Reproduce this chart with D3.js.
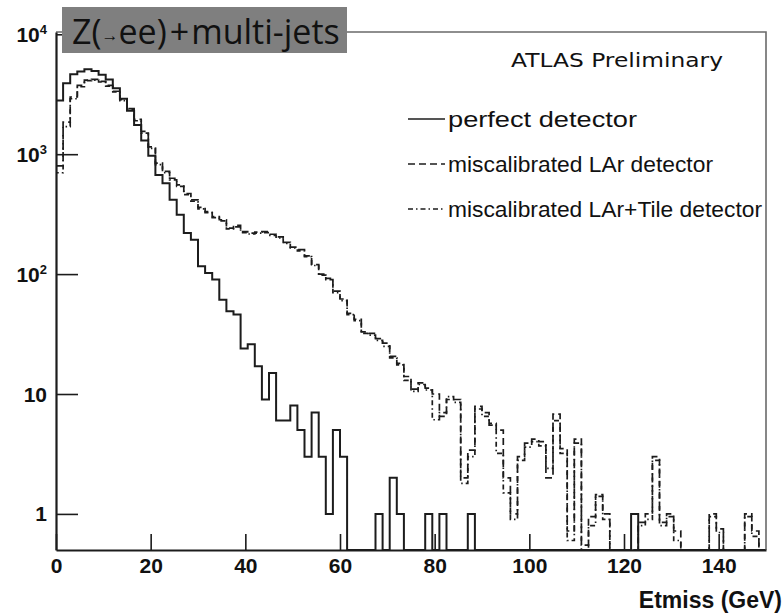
<!DOCTYPE html>
<html>
<head>
<meta charset="utf-8">
<script src="https://cdn.jsdelivr.net/npm/d3@7"></script>
<style>
  html, body { margin: 0; padding: 0; background: #fff; }
  svg { display: block; }
</style>
</head>
<body>
<svg id="chart" width="784" height="614"></svg>
<script>
// Etmiss distributions, 1.5 GeV bins from 0 to 150 GeV (100 bins)
const binWidth = 1.5;
const xRange = [0, 150];

const perfect = [
  2800, 3900, 4650, 4900, 5100, 4950, 4600, 4200, 3550, 2900,
  2300, 1750, 1300, 970, 672, 573, 416, 312, 220, 193,
  116, 102, 90, 61, 49, 46, 24, 26, 17, 9,
  15, 6, 6, 8, 5, 3, 7, 3, 1, 5,
  3, 0, 0, 0, 0, 1, 0, 2, 1, 0,
  0, 0, 1, 0, 1, 0, 0, 0, 1, 0,
  0, 0, 0, 0, 0, 0, 0, 0, 0, 0,
  0, 0, 0, 0, 0, 0, 0, 0, 0, 0,
  0, 1, 0, 0, 0, 0, 0, 0, 0, 0,
  0, 0, 0, 0, 0, 0, 0, 0, 0, 0
];

const missLAr = [
  800, 1850, 3000, 3750, 4150, 4200, 4050, 3750, 3350, 2850,
  2400, 1950, 1550, 1150, 842, 720, 630, 555, 470, 416,
  360, 332, 302, 284, 242, 255, 226, 220, 224, 226,
  215, 204, 184, 168, 160, 142, 120, 100, 92, 72,
  62, 47, 42, 33, 32, 29, 26.6, 20.6, 18, 14,
  11, 12.4, 11.2, 10, 6.5, 9, 9, 2.0, 3.4, 7.9,
  7.0, 5.7, 5.0, 2.0, 1.0, 3.0, 3.9, 4.2, 4.0, 2.0,
  6.8, 3.5, 0.72, 4.2, 0, 0.95, 1.45, 1.0, 0, 0,
  0, 0, 0.85, 1.0, 3.0, 0.85, 1.0, 0.72, 0, 0,
  0, 0, 1.0, 0.75, 0, 0, 0, 1.0, 0.72, 0
];

const missLArTile = [
  700, 1700, 2900, 3650, 4100, 4150, 4000, 3700, 3300, 2800,
  2350, 1900, 1500, 1120, 820, 700, 610, 540, 460, 405,
  350, 325, 296, 278, 238, 248, 222, 216, 220, 222,
  210, 200, 180, 165, 156, 140, 118, 98, 90, 70,
  60, 46, 41, 32, 31, 28, 25, 20, 17.5, 13,
  10.5, 12, 10.8, 6.1, 7, 9.5, 8.5, 1.8, 3.0, 7.5,
  6.5, 5.5, 3.2, 1.5, 0.9, 2.8, 3.6, 4.0, 3.7, 2.4,
  6.0, 3.2, 0.6, 3.9, 0.55, 0.8, 1.4, 0.9, 0, 0,
  0, 0, 0.8, 0.9, 2.8, 0.8, 0.95, 0.6, 0, 0,
  0, 0, 0.95, 0.7, 0, 0, 0, 0.95, 0.65, 0
];

const seriesNames = ["perfect detector", "miscalibrated LAr detector", "miscalibrated LAr+Tile detector"];
const xMajorTicks = [0, 20, 40, 60, 80, 100, 120, 140];
const yMajorTicks = [1, 10, 100, 1000, 10000];
const yTickLabels = [["1", ""], ["10", ""], ["10", "2"], ["10", "3"], ["10", "4"]];
const yDomain = [0.5, 10450];

const svg = d3.select("#chart");
const plot = { left: 56, right: 766, top: 32, bottom: 550 };

const x = d3.scaleLinear().domain(xRange).range([plot.left, plot.right]);
const y = d3.scaleLog().domain(yDomain).range([plot.bottom, plot.top]);

const ink = "#1c1c1c";
const dashStyles = [null, "7,4", "5,3,1.5,3"];
const strokeWidths = [2, 1.7, 1.7];

svg.append("rect").attr("width", 784).attr("height", 614).attr("fill", "#fff");

svg.append("defs").append("clipPath").attr("id", "plotClip")
  .append("rect")
  .attr("x", plot.left).attr("y", plot.top)
  .attr("width", plot.right - plot.left).attr("height", plot.bottom - plot.top);

// step outline of a histogram, empty bins sit on the axis
function stepPath(vals) {
  const yv = v => (v >= yDomain[0] ? y(v) : plot.bottom);
  let d = `M${x(0)},${plot.bottom}`;
  vals.forEach((v, i) => {
    d += `V${yv(v)}H${x((i + 1) * binWidth)}`;
  });
  d += `V${plot.bottom}`;
  return d;
}

const hists = svg.append("g").attr("clip-path", "url(#plotClip)");
[[missLArTile, 2], [missLAr, 1], [perfect, 0]].forEach(([vals, k]) => {
  hists.append("path")
    .attr("d", stepPath(vals))
    .attr("fill", "none")
    .attr("stroke", ink)
    .attr("stroke-width", strokeWidths[k])
    .attr("stroke-dasharray", dashStyles[k])
    .attr("stroke-linejoin", "miter");
});

// frame: top and right in grey
svg.append("path")
  .attr("d", `M${plot.left},${plot.top}H${plot.right}V${plot.bottom}`)
  .attr("fill", "none").attr("stroke", "#6a6a6a").attr("stroke-width", 1.6);

// x axis
const xMinor = d3.range(0, 151, 5).filter(v => v % 20 !== 0);
const xAxisG = svg.append("g").attr("transform", `translate(0,${plot.bottom})`);
xAxisG.call(d3.axisBottom(x).tickValues(xMinor).tickSizeInner(-8).tickSizeOuter(0).tickFormat(""));
xAxisG.call(d3.axisBottom(x).tickValues(xMajorTicks).tickSizeInner(-16).tickSizeOuter(0).tickPadding(8)
  .tickFormat(d3.format("d")));
xAxisG.selectAll("path.domain").attr("stroke", ink).attr("stroke-width", 2.2);
xAxisG.selectAll(".tick line").attr("stroke", ink).attr("stroke-width", 1.6);
xAxisG.selectAll(".tick text")
  .attr("font-family", "'Liberation Sans', Arial, sans-serif")
  .attr("font-weight", "bold").attr("font-size", 21).attr("fill", "#111");

// y axis (log)
const yMinor = [];
[0.1, 1, 10, 100, 1000].forEach(dec => {
  for (let m = 2; m <= 9; m++) {
    const v = dec * m;
    if (v >= yDomain[0] && v <= yDomain[1]) yMinor.push(v);
  }
});
const yAxisG = svg.append("g").attr("transform", `translate(${plot.left},0)`);
yAxisG.call(d3.axisLeft(y).tickValues(yMinor).tickSizeInner(-11).tickSizeOuter(0).tickFormat(""));
yAxisG.call(d3.axisLeft(y).tickValues(yMajorTicks).tickSizeInner(-22).tickSizeOuter(0).tickPadding(9)
  .tickFormat(""));
yAxisG.selectAll("path.domain").attr("stroke", ink).attr("stroke-width", 2.2);
yAxisG.selectAll(".tick line").attr("stroke", ink).attr("stroke-width", 1.6);

const yLabels = svg.append("g")
  .attr("font-family", "'Liberation Sans', Arial, sans-serif")
  .attr("font-weight", "bold").attr("fill", "#111");
yMajorTicks.forEach((v, i) => {
  const [base, sup] = yTickLabels[i];
  const t = yLabels.append("text")
    .attr("x", 47).attr("y", y(v) + 7.5)
    .attr("text-anchor", "end").attr("font-size", 21);
  t.append("tspan").text(base);
  if (sup) t.append("tspan").attr("font-size", 13).attr("dy", -8).text(sup);
});

// legend
const legend = svg.append("g");
const legendRows = [127, 172, 217];
const legendWidths = [189, 265, 314];
seriesNames.forEach((name, k) => {
  legend.append("line")
    .attr("x1", 408).attr("x2", 445)
    .attr("y1", legendRows[k] - 8).attr("y2", legendRows[k] - 8)
    .attr("stroke", ink).attr("stroke-width", 1.6)
    .attr("stroke-dasharray", dashStyles[k]);
  legend.append("text")
    .attr("x", 448).attr("y", legendRows[k])
    .attr("font-family", "'Liberation Sans', Arial, sans-serif")
    .attr("font-size", 22.5).attr("fill", "#111")
    .attr("textLength", legendWidths[k])
    .attr("lengthAdjust", "spacingAndGlyphs")
    .text(name);
});

svg.append("text")
  .attr("x", 511).attr("y", 67)
  .attr("font-family", "'DejaVu Sans', Verdana, sans-serif")
  .attr("font-size", 20).attr("fill", "#111")
  .attr("textLength", 212)
  .attr("lengthAdjust", "spacingAndGlyphs")
  .text("ATLAS Preliminary");

// title box
svg.append("rect")
  .attr("x", 62).attr("y", 7).attr("width", 285).attr("height", 46)
  .attr("fill", "#7f7f7f");
const title = svg.append("text")
  .attr("x", 72).attr("y", 44)
  .attr("font-family", "'Open Sans', sans-serif")
  .attr("font-size", 34).attr("fill", "#111");
title.append("tspan").text("Z(");
title.append("tspan").attr("font-size", 17).attr("dy", -3).text("→");
title.append("tspan").attr("dy", 3).text("ee)");
title.append("tspan").attr("dx", 3).text("+");
title.append("tspan").attr("dx", 2).text("multi-jets");

// axis title
svg.append("text")
  .attr("x", 782).attr("y", 608)
  .attr("text-anchor", "end")
  .attr("font-family", "'Liberation Sans', Arial, sans-serif")
  .attr("font-weight", "bold").attr("font-size", 23).attr("fill", "#111")
  .text("Etmiss (GeV)");
</script>
</body>
</html>
